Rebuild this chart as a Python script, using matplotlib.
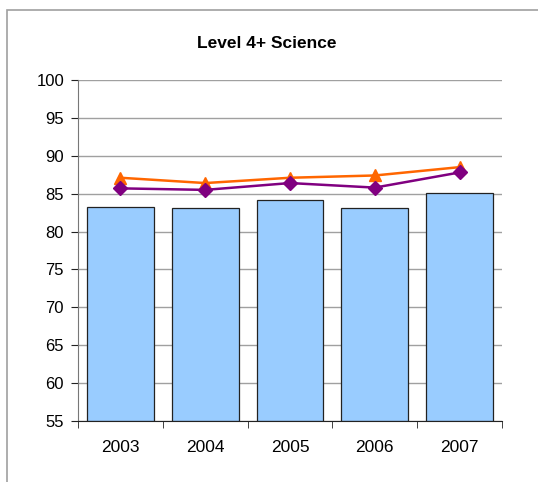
import matplotlib
matplotlib.use("Agg")
import matplotlib.pyplot as plt
from matplotlib.patches import Rectangle
import numpy as np

years = ["2003", "2004", "2005", "2006", "2007"]
bar_values = [83.3, 83.1, 84.1, 83.1, 85.1]
orange_values = [87.1, 86.4, 87.1, 87.4, 88.5]
purple_values = [85.7, 85.5, 86.4, 85.8, 87.8]

plt.rcParams["font.family"] = ["Liberation Sans", "DejaVu Sans"]

W, H = 538, 482
fig = plt.figure(figsize=(W / 100, H / 100), dpi=100)
fig.patch.set_facecolor("white")

# outer chart frame
fig.patches.append(Rectangle((7 / W, -0.1), 1.2, 1 - 10 / H + 0.1,
                             transform=fig.transFigure, fill=False,
                             edgecolor="#a0a0a0", linewidth=1.2))

ax = fig.add_axes([78 / W, 1 - 421 / H, (502 - 78) / W, (421 - 80) / H])
x = np.arange(len(years))

ax.bar(x, np.array(bar_values) - 55, bottom=55, width=0.79,
       color="#99ccff", edgecolor="#222222", linewidth=0.9, zorder=2)
ax.plot(x, orange_values, color="#ff6600", linewidth=1.8, marker="^",
        markersize=9, zorder=3)
ax.plot(x, purple_values, color="#800080", linewidth=1.8, marker="D",
        markersize=7, zorder=4)

ax.set_xlim(-0.5, len(years) - 0.5)
ax.set_ylim(55, 100)
ax.set_yticks(np.arange(55, 101, 5))
ax.set_xticks(x)
ax.set_xticklabels(years)
ax.set_xticks(np.arange(-0.5, len(years), 1), minor=True)
ax.tick_params(axis="x", which="major", length=0, pad=14, labelsize=12.5)
ax.tick_params(axis="x", which="minor", length=5, direction="out", color="#222222")
ax.tick_params(axis="y", length=5, direction="out", pad=5, labelsize=12, color="#222222")

ax.yaxis.grid(True, color="#a0a0a0", linewidth=1.0, zorder=0)
ax.set_axisbelow(True)
for s in ["top", "right"]:
    ax.spines[s].set_visible(False)
ax.spines["left"].set_color("#777777")
ax.spines["bottom"].set_color("#222222")

fig.text(267 / W, 1 - 44 / H, "Level 4+ Science", ha="center", va="center",
         fontsize=12.5, fontweight="bold")

fig.savefig("out.png", dpi=100)
